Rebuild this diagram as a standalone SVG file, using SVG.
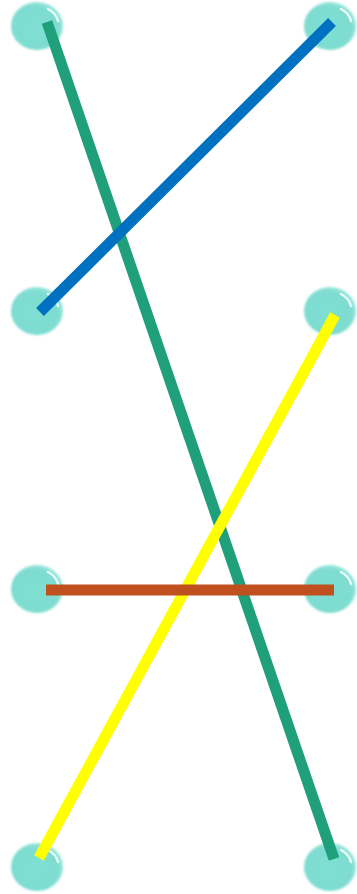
<svg xmlns="http://www.w3.org/2000/svg" width="357" height="894" viewBox="0 0 357 894">
<defs>
<radialGradient id="ball" cx="0.45" cy="0.55" r="0.6">
<stop offset="0" stop-color="#7fe0d4"/>
<stop offset="0.75" stop-color="#7edcd0"/>
<stop offset="1" stop-color="#a6ebe2"/>
</radialGradient>
<filter id="blur" x="-20%" y="-20%" width="140%" height="140%"><feGaussianBlur stdDeviation="1"/></filter>
</defs>
<style>
.ball{fill:url(#ball);filter:url(#blur)}
.hl{fill:none;stroke:#e8fbf8;stroke-width:2.5;stroke-linecap:round}
.ln{fill:none;stroke-width:11;stroke-linecap:butt}
</style>
<g id="n1"><ellipse class="ball" cx="37" cy="26" rx="26" ry="24"/><path class="hl" d="M48 9 Q56 13 58 21"/></g>
<g id="n2"><ellipse class="ball" cx="330" cy="26" rx="26" ry="24"/><path class="hl" d="M341 9 Q349 13 351 21"/></g>
<g id="n3"><ellipse class="ball" cx="37" cy="311" rx="26" ry="24"/><path class="hl" d="M48 294 Q56 298 58 306"/></g>
<g id="n4"><ellipse class="ball" cx="330" cy="311" rx="26" ry="24"/><path class="hl" d="M341 294 Q349 298 351 306"/></g>
<g id="n5"><ellipse class="ball" cx="37" cy="589" rx="26" ry="24"/><path class="hl" d="M48 572 Q56 576 58 584"/></g>
<g id="n6"><ellipse class="ball" cx="330" cy="589" rx="26" ry="24"/><path class="hl" d="M341 572 Q349 576 351 584"/></g>
<g id="n7"><ellipse class="ball" cx="37" cy="867" rx="26" ry="24"/><path class="hl" d="M48 850 Q56 854 58 862"/></g>
<g id="n8"><ellipse class="ball" cx="330" cy="867" rx="26" ry="24"/><path class="hl" d="M341 850 Q349 854 351 862"/></g>
<g id="connectors">
<line class="ln" x1="47" y1="22" x2="334" y2="859" stroke="#1f9f7a"/>
<line class="ln" x1="332" y1="22" x2="40" y2="312" stroke="#0070c0"/>
<line class="ln" x1="335" y1="315" x2="39" y2="858" stroke="#ffff00"/>
<line class="ln" x1="46" y1="590" x2="334" y2="590" stroke="#c0501f"/>
</g>
</svg>
